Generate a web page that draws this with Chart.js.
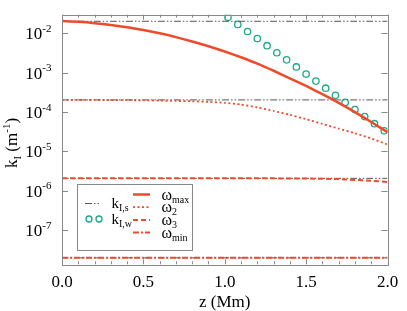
<!DOCTYPE html>
<html>
<head>
<meta charset="utf-8">
<script src="https://cdn.jsdelivr.net/npm/chart.js@4.4.1/dist/chart.umd.min.js"></script>
<style>
  html, body { margin: 0; padding: 0; background: #fff; }
  canvas { display: block; }
</style>
</head>
<body>
<canvas id="chart" width="407" height="311"></canvas>
<script>
// z grid (Mm) for the omega curves
const zGrid = [0.0, 0.1, 0.2, 0.3, 0.4, 0.5, 0.6, 0.7, 0.8, 0.9, 1.0,
               1.1, 1.2, 1.3, 1.4, 1.5, 1.6, 1.7, 1.8, 1.9, 2.0];

// k_I for the four frequencies (m^-1)
const wMax = [2.04e-2, 1.95e-2, 1.81e-2, 1.63e-2, 1.43e-2, 1.21e-2, 1.00e-2, 8.0e-3, 6.2e-3, 4.7e-3, 3.45e-3,
              2.46e-3, 1.70e-3, 1.12e-3, 7.2e-4, 4.6e-4, 2.85e-4, 1.72e-4, 1.0e-4, 5.6e-5, 3.1e-5];
const w2   = [2.04e-4, 2.04e-4, 2.03e-4, 2.02e-4, 2.01e-4, 1.99e-4, 1.96e-4, 1.92e-4, 1.88e-4, 1.82e-4, 1.72e-4,
              1.55e-4, 1.32e-4, 1.07e-4, 8.5e-5, 6.6e-5, 5.0e-5, 3.8e-5, 2.9e-5, 2.14e-5, 1.51e-5];
const w3   = [2.08e-6, 2.08e-6, 2.08e-6, 2.08e-6, 2.08e-6, 2.08e-6, 2.08e-6, 2.08e-6, 2.08e-6, 2.08e-6, 2.08e-6,
              2.08e-6, 2.08e-6, 2.08e-6, 2.07e-6, 2.06e-6, 2.03e-6, 1.99e-6, 1.90e-6, 1.81e-6, 1.69e-6];
const wMin = [2.0e-8, 2.0e-8, 2.0e-8, 2.0e-8, 2.0e-8, 2.0e-8, 2.0e-8, 2.0e-8, 2.0e-8, 2.0e-8, 2.0e-8,
              2.0e-8, 2.0e-8, 2.0e-8, 2.0e-8, 2.0e-8, 2.0e-8, 2.0e-8, 2.0e-8, 2.0e-8, 2.0e-8];

// k_I,s : constant levels, one per frequency
const kIs = [2.02e-2, 2.04e-4, 2.08e-6, 2.0e-8];
const kIsRange = [0.0, 2.0];

// k_I,w : open circles
const zW  = [1.02, 1.08, 1.14, 1.20, 1.26, 1.32, 1.38, 1.44, 1.50, 1.56, 1.62, 1.68, 1.74, 1.80, 1.86, 1.92, 1.98];
const kIw = [2.55e-2, 1.68e-2, 1.11e-2, 7.35e-3, 4.85e-3, 3.21e-3, 2.12e-3, 1.40e-3, 9.25e-4, 6.11e-4,
             4.04e-4, 2.67e-4, 1.76e-4, 1.16e-4, 7.69e-5, 5.08e-5, 3.36e-5];

// tick labels
const xTicks = [0.0, 0.5, 1.0, 1.5, 2.0];
const yExps = [-2, -3, -4, -5, -6, -7];

const RED = '#ee4a2c';
const TEAL = '#1aaa88';
const GRAY = '#555555';
const AXIS = '#888888';
const FONT = '"Liberation Serif", "Times New Roman", serif';

const pts = (xs, ys) => xs.map((x, i) => ({ x: x, y: ys[i] }));

// ecrit un texte avec indices / exposants
function drawRich(ctx, parts, x, y, align) {
    let w = 0;
    parts.forEach(p => { ctx.font = p[1] + 'px ' + FONT; w += ctx.measureText(p[0]).width; });
    let cx = align === 'right' ? x - w : (align === 'center' ? x - w / 2 : x);
    ctx.textAlign = 'left';
    ctx.textBaseline = 'alphabetic';
    parts.forEach(p => {
        ctx.font = p[1] + 'px ' + FONT;
        ctx.fillText(p[0], cx, y + p[2]);
        cx += ctx.measureText(p[0]).width;
    });
}

const frame = {
    id: 'frame',
    afterDatasetsDraw(chart) {
        const ctx = chart.ctx;
        const a = chart.chartArea;
        const xs = chart.scales.x, ys = chart.scales.y;
        ctx.save();
        ctx.strokeStyle = AXIS;
        ctx.lineWidth = 1;
        ctx.strokeRect(Math.round(a.left) + 0.5, Math.round(a.top) + 0.5,
                       Math.round(a.right - a.left), Math.round(a.bottom - a.top));

        // ticks inward
        ctx.beginPath();
        for (let i = 0; i <= 20; i++) {
            const px = Math.round(xs.getPixelForValue(i / 10)) + 0.5;
            const len = (i % 5 === 0) ? 5 : 3;
            ctx.moveTo(px, a.bottom); ctx.lineTo(px, a.bottom - len);
            ctx.moveTo(px, a.top); ctx.lineTo(px, a.top + len);
        }
        yExps.forEach(e => {
            const py = Math.round(ys.getPixelForValue(Math.pow(10, e))) + 0.5;
            ctx.moveTo(a.left, py); ctx.lineTo(a.left + 6, py);
            ctx.moveTo(a.right, py); ctx.lineTo(a.right - 6, py);
        });
        ctx.stroke();

        // tick labels
        ctx.fillStyle = '#000';
        yExps.forEach(e => {
            const py = ys.getPixelForValue(Math.pow(10, e));
            drawRich(ctx, [['10', 17, 0], [String(e), 11, -7.5]], 51.5, py + 6, 'right');
        });
        xTicks.forEach(v => {
            drawRich(ctx, [[v.toFixed(1), 17, 0]], xs.getPixelForValue(v), 286.5, 'center');
        });

        // axis titles
        drawRich(ctx, [['z (Mm)', 17, 0]], (a.left + a.right) / 2, 307, 'center');
        ctx.save();
        ctx.translate(16.5, 143);
        ctx.rotate(-Math.PI / 2);
        drawRich(ctx, [['k', 17, 0], ['I', 11, 4], [' (m', 17, 0], ['-1', 11, -7], [')', 17, 0]], 0, 0, 'center');
        ctx.restore();

        // legend
        ctx.fillStyle = '#fff';
        ctx.fillRect(77.5, 184.5, 115, 66);
        ctx.strokeStyle = AXIS;
        ctx.strokeRect(77.5, 184.5, 115, 66);

        const sample = (y, x0, x1, color, width, dash) => {
            ctx.beginPath();
            ctx.strokeStyle = color;
            ctx.lineWidth = width;
            ctx.setLineDash(dash);
            ctx.moveTo(x0, y); ctx.lineTo(x1, y);
            ctx.stroke();
            ctx.setLineDash([]);
        };
        sample(203.5, 85, 101, GRAY, 1, [7, 2, 1.5, 2, 1.5, 2]);
        ctx.strokeStyle = TEAL;
        ctx.lineWidth = 1.3;
        [89, 99].forEach(cx => { ctx.beginPath(); ctx.arc(cx, 219, 3, 0, Math.PI * 2); ctx.stroke(); });
        ctx.fillStyle = '#000';
        drawRich(ctx, [['k', 15, 0], ['I,s', 10, 3]], 111.5, 207.5, 'left');
        drawRich(ctx, [['k', 15, 0], ['I,w', 10, 3]], 111.5, 223.5, 'left');

        const rows = [
            ['max', [], 2.5],
            ['2', [2, 2.5], 1.8],
            ['3', [5, 3], 2],
            ['min', [6, 2, 2, 2], 2]
        ];
        rows.forEach((r, i) => {
            const y = 194.5 + i * 12.7;
            sample(y, 133, 150, RED, r[2], r[1]);
            ctx.fillStyle = '#000';
            drawRich(ctx, [['\u03c9', 16, 0], [r[0], 10, 3]], 161.5, y + 5, 'left');
        });
        ctx.restore();
    }
};

const datasets = [
    { data: pts(zGrid, wMax), borderColor: RED, borderWidth: 2.5 },
    { data: pts(zGrid, w2), borderColor: RED, borderWidth: 1.8, borderDash: [2, 2.5] },
    { data: pts(zGrid, w3), borderColor: RED, borderWidth: 2, borderDash: [5, 3] },
    { data: pts(zGrid, wMin), borderColor: RED, borderWidth: 2, borderDash: [6, 2, 2, 2] }
];
kIs.forEach(v => {
    datasets.push({
        data: kIsRange.map(z => ({ x: z, y: v })),
        borderColor: GRAY, borderWidth: 1, borderDash: [7, 2, 1.5, 2, 1.5, 2]
    });
});
datasets.push({
    data: pts(zW, kIw), showLine: false,
    pointRadius: 3.2, pointBorderWidth: 1.3,
    pointBorderColor: TEAL, pointBackgroundColor: 'rgba(0,0,0,0)'
});

function draw() {
    const ctx = document.getElementById('chart').getContext('2d');
    new Chart(ctx, {
        type: 'line',
        data: { datasets: datasets },
        options: {
            responsive: false,
            animation: false,
            devicePixelRatio: 1,
            elements: { point: { radius: 0 }, line: { tension: 0.2, fill: false } },
            layout: { padding: { left: 62, right: 19.5, top: 14.7, bottom: 46.7 } },
            plugins: { legend: { display: false }, tooltip: { enabled: false } },
            scales: {
                x: { type: 'linear', min: 0, max: 2, display: false },
                y: { type: 'logarithmic', min: 1.37e-8, max: 0.02965, display: false }
            }
        },
        plugins: [frame]
    });
}

if (document.fonts && document.fonts.load) {
    document.fonts.load('17px "Liberation Serif"').then(draw, draw);
} else {
    draw();
}
</script>
</body>
</html>
